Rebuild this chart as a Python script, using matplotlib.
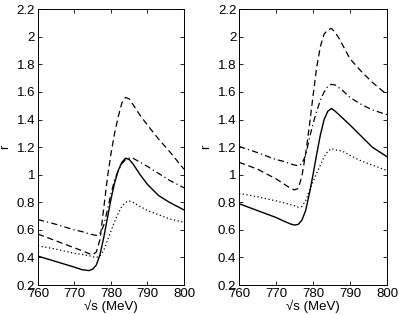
import numpy as np
import matplotlib
matplotlib.use("Agg")
import matplotlib.pyplot as plt

plt.rcParams['font.family'] = ['Liberation Sans', 'DejaVu Sans']
plt.rcParams['font.size'] = 9.5

sqrt_s = [760, 765, 770, 772, 774, 775, 776, 777, 778, 779, 780, 781, 782, 783,
          784, 785, 786, 787, 788, 790, 793, 796, 800]

# left panel
left_solid = [0.41, 0.37, 0.33, 0.312, 0.305, 0.315, 0.345, 0.42, 0.54, 0.68, 0.82, 0.94,
              1.03, 1.09, 1.12, 1.11, 1.08, 1.04, 1.00, 0.93, 0.85, 0.80, 0.745]
left_dotted = [0.485, 0.46, 0.43, 0.423, 0.413, 0.405, 0.40, 0.41, 0.45, 0.52, 0.59, 0.66,
               0.72, 0.77, 0.80, 0.81, 0.80, 0.785, 0.77, 0.74, 0.71, 0.68, 0.655]
left_dashed = [0.57, 0.52, 0.47, 0.45, 0.428, 0.42, 0.44, 0.53, 0.75, 0.97, 1.15, 1.30,
               1.42, 1.52, 1.56, 1.55, 1.51, 1.47, 1.43, 1.36, 1.26, 1.17, 1.04]
left_dashdot = [0.675, 0.64, 0.60, 0.588, 0.572, 0.565, 0.56, 0.575, 0.63, 0.74, 0.86, 0.96,
                1.03, 1.08, 1.11, 1.12, 1.12, 1.105, 1.09, 1.06, 1.01, 0.96, 0.905]

# right panel
right_solid = [0.79, 0.74, 0.69, 0.665, 0.642, 0.635, 0.64, 0.67, 0.74, 0.86, 1.00, 1.15,
               1.29, 1.40, 1.46, 1.48, 1.46, 1.435, 1.41, 1.36, 1.28, 1.20, 1.13]
right_dotted = [0.865, 0.84, 0.81, 0.797, 0.782, 0.775, 0.765, 0.77, 0.81, 0.88, 0.95, 1.01,
                1.07, 1.13, 1.17, 1.19, 1.18, 1.175, 1.17, 1.14, 1.10, 1.07, 1.03]
right_dashed = [1.09, 1.04, 0.97, 0.935, 0.90, 0.89, 0.90, 0.99, 1.15, 1.35, 1.57, 1.78,
                1.93, 2.02, 2.05, 2.06, 2.03, 1.99, 1.94, 1.84, 1.75, 1.67, 1.58]
right_dashdot = [1.205, 1.16, 1.11, 1.097, 1.078, 1.07, 1.065, 1.08, 1.14, 1.26, 1.37, 1.46,
                 1.54, 1.60, 1.64, 1.655, 1.65, 1.63, 1.61, 1.56, 1.51, 1.47, 1.435]

xticks = [760, 770, 780, 790, 800]
yticks = [0.2, 0.4, 0.6, 0.8, 1, 1.2, 1.4, 1.6, 1.8, 2, 2.2]
ytick_labels = ['0.2', '0.4', '0.6', '0.8', '1', '1.2', '1.4', '1.6', '1.8', '2', '2.2']

fig = plt.figure(figsize=(3.99, 3.15), dpi=100)
ax1 = fig.add_axes([0.095, 0.095, 0.366, 0.876])
ax2 = fig.add_axes([0.599, 0.095, 0.371, 0.876])

panels = [(ax1, left_solid, left_dotted, left_dashed, left_dashdot),
          (ax2, right_solid, right_dotted, right_dashed, right_dashdot)]

for ax, solid, dotted, dashed, dashdot in panels:
    ax.plot(sqrt_s, solid, color='k', lw=1.0, ls='-')
    ax.plot(sqrt_s, dotted, color='k', lw=0.9, ls=(0, (1, 2)))
    ax.plot(sqrt_s, dashed, color='k', lw=0.9, ls=(0, (5, 3)))
    ax.plot(sqrt_s, dashdot, color='k', lw=0.9, ls=(0, (5, 2.5, 1, 2.5)))
    ax.set_xlim(760, 800)
    ax.set_ylim(0.2, 2.2)
    ax.set_xticks(xticks)
    ax.set_yticks(yticks)
    ax.set_yticklabels(ytick_labels)
    ax.tick_params(direction='in', top=True, right=True, length=3, width=0.6, pad=2)
    for sp in ax.spines.values():
        sp.set_linewidth(0.7)
    ax.set_xlabel(u'\u221as (MeV)', labelpad=0)
    ax.set_ylabel('r', labelpad=4)

fig.savefig('out.png', dpi=100)
